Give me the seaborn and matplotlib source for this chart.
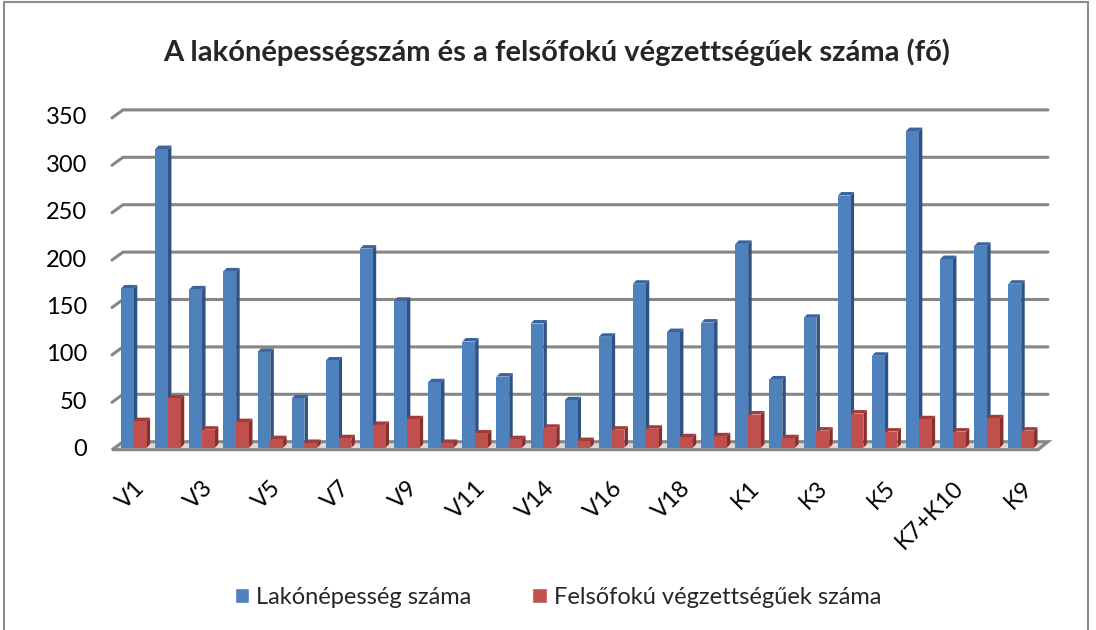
import numpy as np
import pandas as pd
import matplotlib
matplotlib.use("Agg")
import matplotlib.pyplot as plt
import seaborn as sns
from matplotlib.patches import Polygon, Rectangle, Patch
from matplotlib.lines import Line2D

categories = ["V1", "V2", "V3", "V4", "V5", "V6", "V7", "V8", "V9", "V10",
              "V11", "V12", "V14", "V15", "V16", "V17", "V18", "V19",
              "K1", "K2", "K3", "K4", "K5", "K6", "K7+K10", "K8", "K9"]
lakonepesseg = [168, 315, 167, 186, 101, 52, 92, 210, 155, 69,
                112, 75, 131, 50, 117, 173, 122, 132,
                215, 72, 137, 266, 97, 334, 199, 213, 173]
felsofoku = [28, 52, 19, 27, 9, 5, 10, 24, 30, 5,
             15, 9, 21, 7, 19, 20, 11, 12,
             35, 10, 18, 36, 17, 30, 17, 31, 18]
series_names = ["Lakónépesség száma", "Felsőfokú végzettségűek száma"]
tick_labels = categories[::2]
yticks = [0, 50, 100, 150, 200, 250, 300, 350]
colors = ["#4F81BD", "#C0504D"]
side_colors = ["#2F5283", "#8A2E2C"]
top_colors = ["#3A659C", "#A23C3A"]
grid_color = "#868686"

df = pd.DataFrame({
    "cat": categories * 2,
    "value": lakonepesseg + felsofoku,
    "series": [series_names[0]] * len(categories) + [series_names[1]] * len(categories),
})

sns.set_theme(style="white")
plt.rcParams["font.family"] = ["Lato", "DejaVu Sans"]

W, H = 1096, 630
fig = plt.figure(figsize=(W / 100, H / 100), dpi=100)
ax = fig.add_axes([115 / W, 1 - 447.7 / H, (1040 - 115) / W, (447.7 - 115.9) / H])

sns.barplot(data=df, x="cat", y="value", hue="series", order=categories,
            hue_order=series_names, palette=colors, width=0.75, dodge=True,
            saturation=1, ax=ax, legend=False, linewidth=0, zorder=3)

ax.set_ylim(0, 350)
ax.set_xlim(-0.55, len(categories) - 0.45)
ax.set_yticks(yticks)
ax.grid(False)
for s in ax.spines.values():
    s.set_visible(False)
ax.set_xlabel("")
ax.set_ylabel("")
ax.tick_params(axis="y", labelsize=17, length=0, pad=20)
ax.set_xticks(range(0, len(categories), 2))
ax.set_xticklabels(tick_labels, rotation=45, ha="right", va="top",
                   rotation_mode="anchor", fontsize=17)
ax.tick_params(axis="x", length=0, pad=21)
for lab in ax.get_xticklabels() + ax.get_yticklabels():
    lab.set_color("black")

fig.canvas.draw()

# back-wall gridlines with depth diagonal, in display pixels
bdx, bdy = 8, 6
xl = ax.transData.transform((-0.55, 0))[0]
xr = ax.transData.transform((len(categories) - 0.45, 0))[0]
for v in yticks:
    yf = ax.transData.transform((0, v))[1]
    if v == 0:
        continue
    fig.add_artist(Line2D([xl - 3, xl + bdx, xr + bdx], [yf - 2, yf + bdy, yf + bdy],
                          transform=None, color=grid_color, linewidth=2.2, zorder=1))

# floor
y0 = ax.transData.transform((0, 0))[1]
floor = Polygon([(xl - 3, y0 - 2), (xr - 2, y0 - 2), (xr + bdx, y0 + bdy), (xl + bdx, y0 + bdy)],
                closed=True, transform=None, facecolor="#D9D9D9",
                edgecolor=grid_color, linewidth=2.2, zorder=1)
fig.add_artist(floor)

dx, dy = 3.5, 3.5
n = len(categories)
for i, p in enumerate(ax.patches[:2 * n]):
    k = 0 if i < n else 1
    x0, yb = p.get_x(), p.get_y()
    x1, yt = x0 + p.get_width(), yb + p.get_height()
    (a, b) = ax.transData.transform((x1, yb))
    (c, d) = ax.transData.transform((x1, yt))
    (e, f) = ax.transData.transform((x0, yt))
    (g, h) = ax.transData.transform((x0, yb))
    front = Polygon([(g, h), (a, b), (c, d), (e, f)], closed=True, transform=None,
                    facecolor=colors[k], edgecolor="none", zorder=5)
    side = Polygon([(a, b), (c, d), (c + dx, d + dy), (a + dx, b + dy)],
                   closed=True, transform=None, facecolor=side_colors[k],
                   edgecolor="none", zorder=4)
    top = Polygon([(e, f), (c, d), (c + dx, d + dy), (e + dx, f + dy)],
                  closed=True, transform=None, facecolor=top_colors[k],
                  edgecolor="none", zorder=4)
    fig.add_artist(side)
    fig.add_artist(top)
    fig.add_artist(front)

fig.text(557 / W, 1 - 52 / H, "A lakónépességszám és a felsőfokú végzettségűek száma (fő)",
         ha="center", va="center", fontsize=21, fontweight="bold")

handles = [Patch(facecolor=colors[0]), Patch(facecolor=colors[1])]
fig.legend(handles, series_names, loc="center", bbox_to_anchor=(0.509, 1 - 597 / H),
           ncol=2, frameon=False, fontsize=17, handlelength=0.6,
           handleheight=0.6, handletextpad=0.3, columnspacing=2.6)

fig.add_artist(Rectangle((4 / W, -0.02), 1084 / W, 1.0 - 2 / H + 0.02,
                         transform=fig.transFigure, fill=False,
                         edgecolor="#8C8C8C", linewidth=1.5))

fig.savefig("out.png", dpi=100, facecolor="white")
